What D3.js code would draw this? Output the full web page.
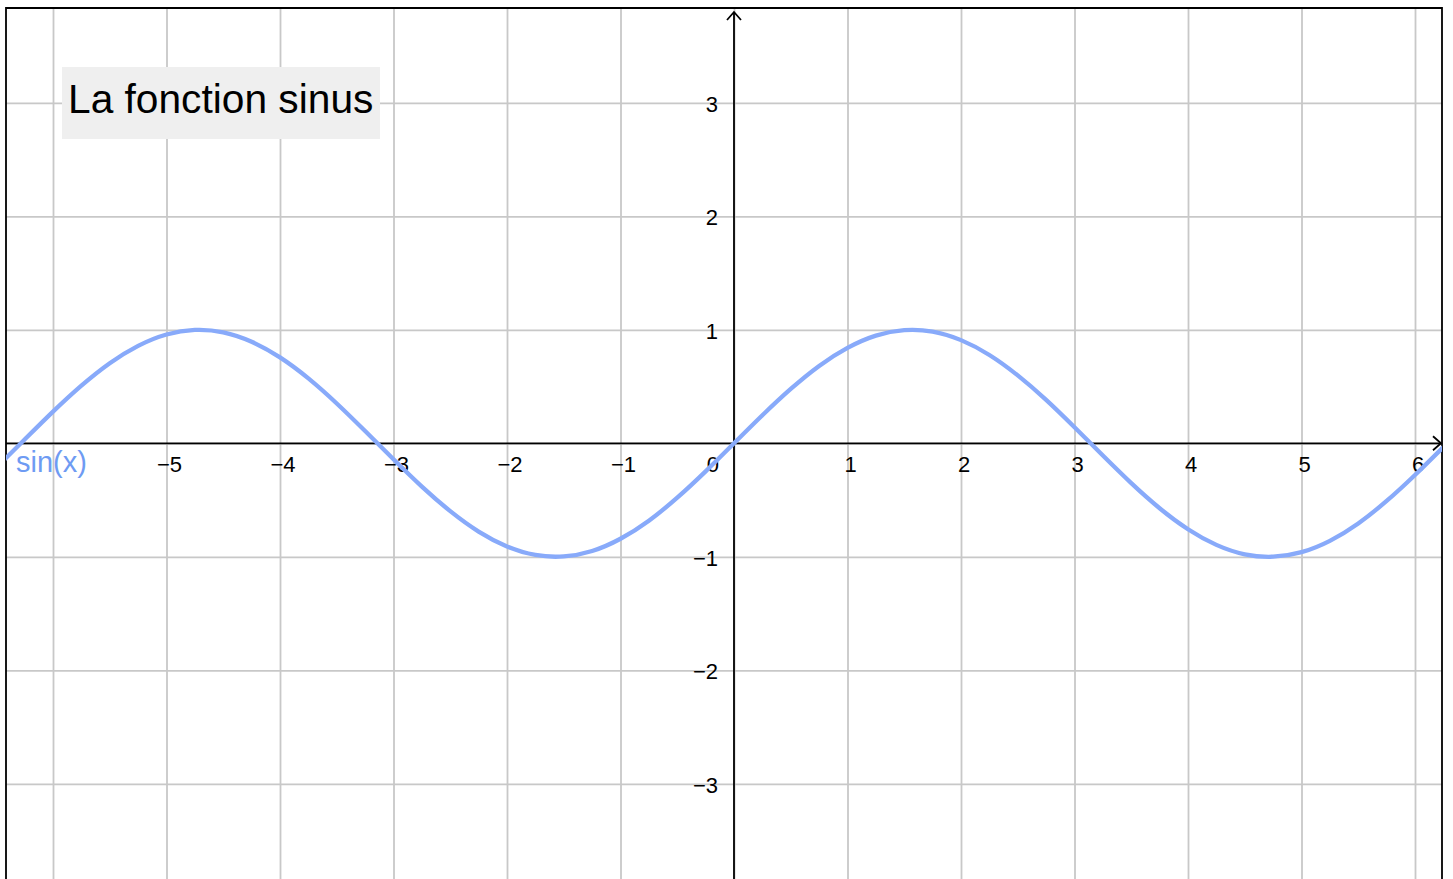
<!doctype html>
<html>
<head>
<meta charset="utf-8">
<style>
  body { margin: 0; background: #fff; }
  svg { display: block; font-family: "Liberation Sans", Arial, sans-serif; }
</style>
</head>
<body>
<script src="https://d3js.org/d3.v7.min.js"></script>
<script>

  // curve points (x, sin x)
  var curveX = [-6.5,-6.25,-6,-5.75,-5.5,-5.25,-5,-4.75,-4.5,-4.25,-4,-3.75,-3.5,-3.25,-3,-2.75,-2.5,-2.25,-2,-1.75,-1.5,-1.25,-1,-0.75,-0.5,-0.25,
                0,0.25,0.5,0.75,1,1.25,1.5,1.75,2,2.25,2.5,2.75,3,3.25,3.5,3.75,4,4.25,4.5,4.75,5,5.25,5.5,5.75,6,6.25,6.5];
  var curveY = [-0.215,0.033,0.279,0.508,0.706,0.859,0.959,0.999,0.978,0.895,0.757,0.572,0.351,0.108,-0.141,-0.382,-0.598,-0.778,-0.909,-0.984,-0.997,-0.949,-0.841,-0.682,-0.479,-0.247,
                0,0.247,0.479,0.682,0.841,0.949,0.997,0.984,0.909,0.778,0.598,0.382,0.141,-0.108,-0.351,-0.572,-0.757,-0.895,-0.978,-0.999,-0.959,-0.859,-0.706,-0.508,-0.279,-0.033,0.215];

  // grid + tick labels
  var xGrid = [-6,-5,-4,-3,-2,-1,0,1,2,3,4,5,6];
  var yGrid = [-3,-2,-1,0,1,2,3];
  var xLabels = [-5,-4,-3,-2,-1,1,2,3,4,5,6];
  var yLabels = [-3,-2,-1,1,2,3];
  var title = "La fonction sinus";
  var curveName = "sin(x)";

  var width = 1453;
  var height = 879;
  var frame = { left: 6, right: 1442, top: 8, bottom: 879 };
  var unit = 113.5;
  var origin = { x: 734, y: 443.3 };

  var xScale = d3.scaleLinear()
                .domain([(frame.left - origin.x) / unit, (frame.right - origin.x) / unit])
                .range([frame.left, frame.right]);
  var yScale = d3.scaleLinear()
                .domain([(origin.y - frame.bottom) / unit, (origin.y - frame.top) / unit])
                .range([frame.bottom, frame.top]);

  var svg = d3.select("body").append("svg").attr("width", width).attr("height", height);

  svg.append("defs").append("clipPath").attr("id", "clip")
      .append("rect")
      .attr("x", frame.left).attr("y", frame.top)
      .attr("width", frame.right - frame.left).attr("height", frame.bottom - frame.top);

  //grid
  var gridColor = "#c8c8c8";
  var gx = svg.append("g")
      .attr("transform", "translate(0," + frame.bottom + ")")
      .call(d3.axisBottom(xScale).tickValues(xGrid).tickSize(-(frame.bottom - frame.top)).tickFormat(""));
  var gy = svg.append("g")
      .attr("transform", "translate(" + frame.left + ",0)")
      .call(d3.axisLeft(yScale).tickValues(yGrid).tickSize(-(frame.right - frame.left)).tickFormat(""));
  [gx, gy].forEach(function(g){
    g.select(".domain").remove();
    g.selectAll("line").attr("stroke", gridColor).attr("stroke-width", 1.8);
  });

  //axes
  var x0 = xScale(0), y0 = yScale(0);
  svg.append("line")
      .attr("x1", frame.left).attr("x2", frame.right - 1).attr("y1", y0).attr("y2", y0)
      .attr("stroke", "#000").attr("stroke-width", 1.8);
  svg.append("line")
      .attr("x1", x0).attr("x2", x0).attr("y1", frame.top + 4).attr("y2", frame.bottom)
      .attr("stroke", "#000").attr("stroke-width", 1.8);
  // arrow heads
  svg.append("path")
      .attr("d", "M" + (frame.right - 9) + "," + (y0 - 7) + "L" + (frame.right - 1) + "," + y0 + "L" + (frame.right - 9) + "," + (y0 + 7))
      .attr("fill", "none").attr("stroke", "#000").attr("stroke-width", 1.8);
  svg.append("path")
      .attr("d", "M" + (x0 - 7) + "," + (frame.top + 12) + "L" + x0 + "," + (frame.top + 4) + "L" + (x0 + 7) + "," + (frame.top + 12))
      .attr("fill", "none").attr("stroke", "#000").attr("stroke-width", 1.8);

  //tick labels
  var lx = svg.append("g")
      .attr("transform", "translate(0," + y0 + ")")
      .call(d3.axisBottom(xScale).tickValues(xLabels).tickSize(0));
  lx.selectAll("text")
      .attr("y", 29).attr("dy", 0).attr("dx", 2.5)
      .attr("fill", "#000").style("font-size", "22px").style("font-family", "Liberation Sans, Arial, sans-serif");
  var ly = svg.append("g")
      .attr("transform", "translate(" + x0 + ",0)")
      .call(d3.axisLeft(yScale).tickValues(yLabels).tickSize(0));
  ly.selectAll("text")
      .attr("x", -16).attr("dy", 0).attr("y", 8.5)
      .attr("fill", "#000").style("font-size", "22px").style("font-family", "Liberation Sans, Arial, sans-serif");
  [lx, ly].forEach(function(g){ g.select(".domain").remove(); });
  svg.append("text")
      .attr("x", x0 - 15).attr("y", y0 + 29)
      .attr("text-anchor", "end").style("font-size", "22px")
      .text("0");

  //frame
  svg.append("path")
      .attr("d", "M" + frame.left + "," + frame.bottom + "V" + frame.top + "H" + frame.right + "V" + frame.bottom)
      .attr("fill", "none").attr("stroke", "#000").attr("stroke-width", 1.8);

  //curve
  var linePath = d3.line()
                    .x(function(d){ return xScale(d[0]); })
                    .y(function(d){ return yScale(d[1]); })
                    .curve(d3.curveNatural);
  svg.append("path")
      .attr("clip-path", "url(#clip)")
      .attr("d", linePath(d3.zip(curveX, curveY)))
      .attr("fill", "none")
      .attr("stroke", "#88aafa")
      .attr("stroke-width", 4.3)
      .attr("stroke-linejoin", "round");

  svg.append("text")
      .attr("x", 16).attr("y", 472)
      .attr("fill", "#6e9bf3").style("font-size", "29px")
      .text(curveName);

  //title box
  svg.append("rect")
      .attr("x", 62).attr("y", 67).attr("width", 318).attr("height", 72)
      .attr("fill", "#efefef");
  svg.append("text")
      .attr("x", 68).attr("y", 113)
      .attr("fill", "#000").style("font-size", "40.7px")
      .text(title);

</script>
</body>
</html>
